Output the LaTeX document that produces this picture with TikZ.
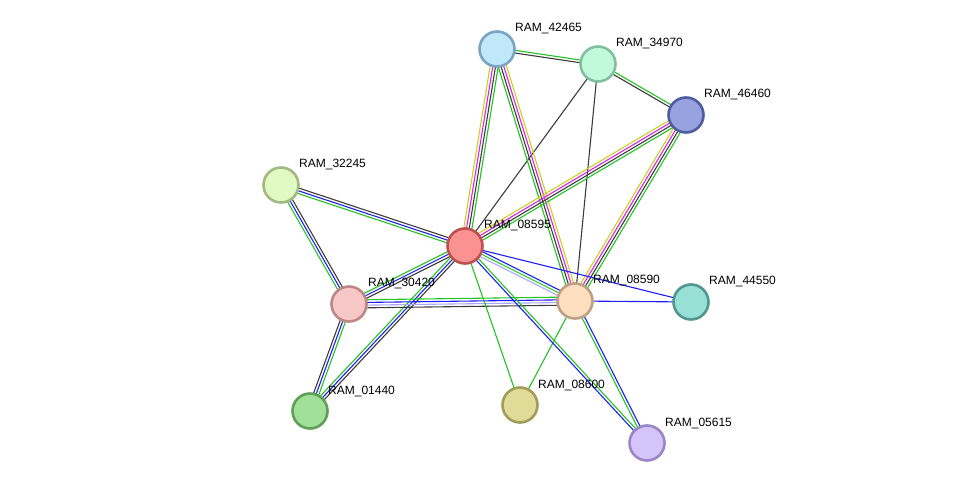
\documentclass[tikz,border=0pt]{standalone}
\usepackage{fontspec}
\setmainfont{Liberation Sans}
\usepackage{tikz}
\usetikzlibrary{
    positioning,
    calc,
    backgrounds
}
\usepackage{xcolor}
\definecolor{nbgreen}{HTML}{22C322}
\definecolor{coblue}{HTML}{1E1EF5}
\definecolor{coblack}{HTML}{3C3C3C}
\definecolor{exmagenta}{HTML}{E020E0}
\definecolor{tmyellow}{HTML}{C8D21E}
\definecolor{holav}{HTML}{A8A8F8}
\tikzstyle{protein} = [
    circle,
    line width=2.6pt,
    minimum size=35pt,
    inner sep=0pt
]
\tikzstyle{tag} = [
    anchor=west,
    inner sep=0pt,
    font=\fontsize{12}{14}\selectfont
]
\tikzstyle{edge} = [
    line width=1.1pt
]
% one line per evidence colour, side by side
\newcommand{\linkedge}[3]{%
    \foreach \col [count=\i] in {#3} {\xdef\nlines{\i}}
    \foreach \col [count=\i] in {#3} {
        \pgfmathsetmacro{\off}{(\i-(\nlines+1)/2)*2.7}
        \draw[edge,\col] ($(#1)!\off pt!90:(#2)$) -- ($(#2)!\off pt!-90:(#1)$);
    }
}

\begin{document}
\begin{tikzpicture}[x=1pt, y=-1pt]
    \useasboundingbox (0,0) rectangle (976,489);

    % proteins
    \node[protein, draw={rgb,255:red,122;green,164;blue,196}, fill={rgb,255:red,193;green,231;blue,250}] (p42465) at (497,49) {};
    \node[protein, draw={rgb,255:red,128;green,192;blue,160}, fill={rgb,255:red,193;green,250;blue,218}] (p34970) at (598,64) {};
    \node[protein, draw={rgb,255:red,80;green,92;blue,160}, fill={rgb,255:red,152;green,162;blue,222}] (p46460) at (686,115) {};
    \node[protein, draw={rgb,255:red,162;green,186;blue,130}, fill={rgb,255:red,225;green,250;blue,196}] (p32245) at (281,185) {};
    \node[protein, draw={rgb,255:red,190;green,80;blue,80}, fill={rgb,255:red,250;green,146;blue,146}] (p08595) at (465,246) {};
    \node[protein, draw={rgb,255:red,190;green,135;blue,135}, fill={rgb,255:red,248;green,200;blue,200}] (p30420) at (349,304) {};
    \node[protein, draw={rgb,255:red,190;green,160;blue,130}, fill={rgb,255:red,253;green,223;blue,192}] (p08590) at (575,301) {};
    \node[protein, draw={rgb,255:red,82;green,150;blue,142}, fill={rgb,255:red,152;green,224;blue,214}] (p44550) at (691,302) {};
    \node[protein, draw={rgb,255:red,94;green,160;blue,88}, fill={rgb,255:red,160;green,224;blue,152}] (p01440) at (310,411) {};
    \node[protein, draw={rgb,255:red,160;green,158;blue,88}, fill={rgb,255:red,224;green,220;blue,152}] (p08600) at (520,405) {};
    \node[protein, draw={rgb,255:red,152;green,134;blue,200}, fill={rgb,255:red,212;green,196;blue,250}] (p05615) at (647,443) {};

    % names
    \node[tag] (l42465) at ([shift={(18,-20)}]p42465.center) {RAM\_42465};
    \node[tag] (l34970) at ([shift={(18,-20)}]p34970.center) {RAM\_34970};
    \node[tag] (l46460) at ([shift={(18,-20)}]p46460.center) {RAM\_46460};
    \node[tag] (l32245) at ([shift={(18,-20)}]p32245.center) {RAM\_32245};
    \node[tag] (l08595) at ([shift={(19,-20)}]p08595.center) {RAM\_08595};
    \node[tag] (l30420) at ([shift={(19,-20)}]p30420.center) {RAM\_30420};
    \node[tag] (l08590) at ([shift={(18,-20)}]p08590.center) {RAM\_08590};
    \node[tag] (l44550) at ([shift={(18,-20)}]p44550.center) {RAM\_44550};
    \node[tag] (l01440) at ([shift={(18,-20)}]p01440.center) {RAM\_01440};
    \node[tag] (l08600) at ([shift={(18,-20)}]p08600.center) {RAM\_08600};
    \node[tag] (l05615) at ([shift={(18,-20)}]p05615.center) {RAM\_05615};

    % links
    \begin{pgfonlayer}{background}
        \linkedge{p42465}{p34970}{coblack,nbgreen}
        \linkedge{p34970}{p46460}{coblack,nbgreen}
        \linkedge{p34970}{p08595}{coblack}
        \linkedge{p34970}{p08590}{coblack}
        \linkedge{p42465}{p08595}{tmyellow,exmagenta,coblack,nbgreen}
        \linkedge{p42465}{p08590}{nbgreen,coblack,exmagenta,tmyellow}
        \linkedge{p46460}{p08595}{tmyellow,exmagenta,coblack,nbgreen}
        \linkedge{p46460}{p08590}{tmyellow,exmagenta,coblack,nbgreen}
        \linkedge{p32245}{p08595}{nbgreen,coblue,coblack}
        \linkedge{p32245}{p30420}{nbgreen,coblue,coblack}
        \linkedge{p08595}{p30420}{nbgreen,coblue,coblack}
        \linkedge{p08595}{p01440}{nbgreen,coblue,coblack}
        \linkedge{p30420}{p01440}{coblack,coblue,nbgreen}
        \linkedge{p30420}{p08590}{coblack,holav,coblue,nbgreen}
        \linkedge{p08595}{p08590}{holav,nbgreen,coblue}
        \linkedge{p08595}{p44550}{coblue}
        \linkedge{p08590}{p44550}{coblue}
        \linkedge{p08595}{p08600}{nbgreen}
        \linkedge{p08590}{p08600}{nbgreen}
        \linkedge{p08595}{p05615}{coblue,nbgreen}
        \linkedge{p08590}{p05615}{nbgreen,coblue}
    \end{pgfonlayer}
\end{tikzpicture}
\end{document}
